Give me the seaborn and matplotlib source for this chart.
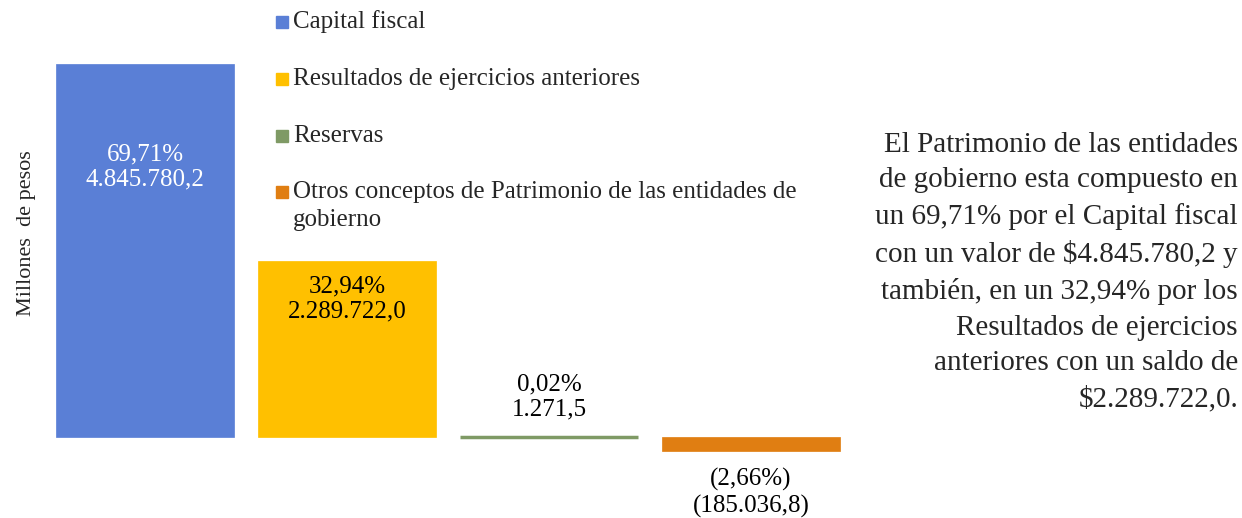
import numpy as np
import pandas as pd
import seaborn as sns
import matplotlib.pyplot as plt
from matplotlib.patches import Rectangle

# data
categorias = ['Capital fiscal', 'Resultados de ejercicios anteriores', 'Reservas',
              'Otros conceptos de Patrimonio de las entidades de\ngobierno']
valores = [4845780.2, 2289722.0, 1271.5, -185036.8]
porcentajes = ['69,71%', '32,94%', '0,02%', '(2,66%)']
etiquetas_valor = ['4.845.780,2', '2.289.722,0', '1.271,5', '(185.036,8)']
colores = ['#5A7FD6', '#FFC000', '#7F9A65', '#E07E12']
texto_color = ['white', 'black', 'black', 'black']
# pixel offset of label centre from the bar end
offsets = [-103, -38, 40, -42]

df = pd.DataFrame({'cat': categorias, 'valor': valores})

sns.set_style('white')
plt.rcParams['font.family'] = ['Liberation Serif', 'DejaVu Serif']

fig = plt.figure(figsize=(12.42, 5.18), dpi=100)
ax = fig.add_axes([44 / 1242, 0, 808 / 1242, 454 / 518])

sns.barplot(data=df, x='cat', y='valor', hue='cat', palette=colores,
            width=0.88, legend=False, ax=ax, saturation=1)

for p, c in zip(ax.patches, colores):
    p.set_edgecolor(c)
    p.set_linewidth(0.5)
ax.patches[2].set_linewidth(2.5)

top = valores[0]
ax.set_xlim(-0.5, 3.5)
ax.set_ylim(-top * 81 / 373, top)
ax.axis('off')

for i, v in enumerate(valores):
    ax.annotate(porcentajes[i] + '\n' + etiquetas_valor[i], xy=(i, v),
                xytext=(0, offsets[i]), textcoords='offset pixels',
                ha='center', va='center', fontsize=18, color=texto_color[i],
                linespacing=1.2, annotation_clip=False)

# y label
fig.text(27 / 1242, 1 - 233 / 518, 'Millones  de pesos', rotation=90,
         ha='center', va='center', fontsize=16)

# manual legend
leg_y = [22, 79, 136, 192]
for i, cat in enumerate(categorias):
    y = 1 - leg_y[i] / 518
    fig.patches.append(Rectangle((276 / 1242, y - 6 / 518), 12 / 1242, 12 / 518,
                                 transform=fig.transFigure, color=colores[i]))
    fig.text(293 / 1242, y, cat.split('\n')[0], ha='left', va='center', fontsize=18)
    if '\n' in cat:
        fig.text(293 / 1242, y - 28 / 518, cat.split('\n')[1], ha='left',
                 va='center', fontsize=18)

parrafo = ('El Patrimonio de las entidades\n'
           'de gobierno esta compuesto en\n'
           'un 69,71% por el Capital fiscal\n'
           'con un valor de $4.845.780,2 y\n'
           'también, en un 32,94% por los\n'
           'Resultados de ejercicios\n'
           'anteriores con un saldo de\n'
           '$2.289.722,0.')
fig.text(1238 / 1242, 1 - 272 / 518, parrafo, ha='right', va='center',
         fontsize=21, linespacing=1.47, multialignment='right')

fig.savefig('out.png', dpi=100)
